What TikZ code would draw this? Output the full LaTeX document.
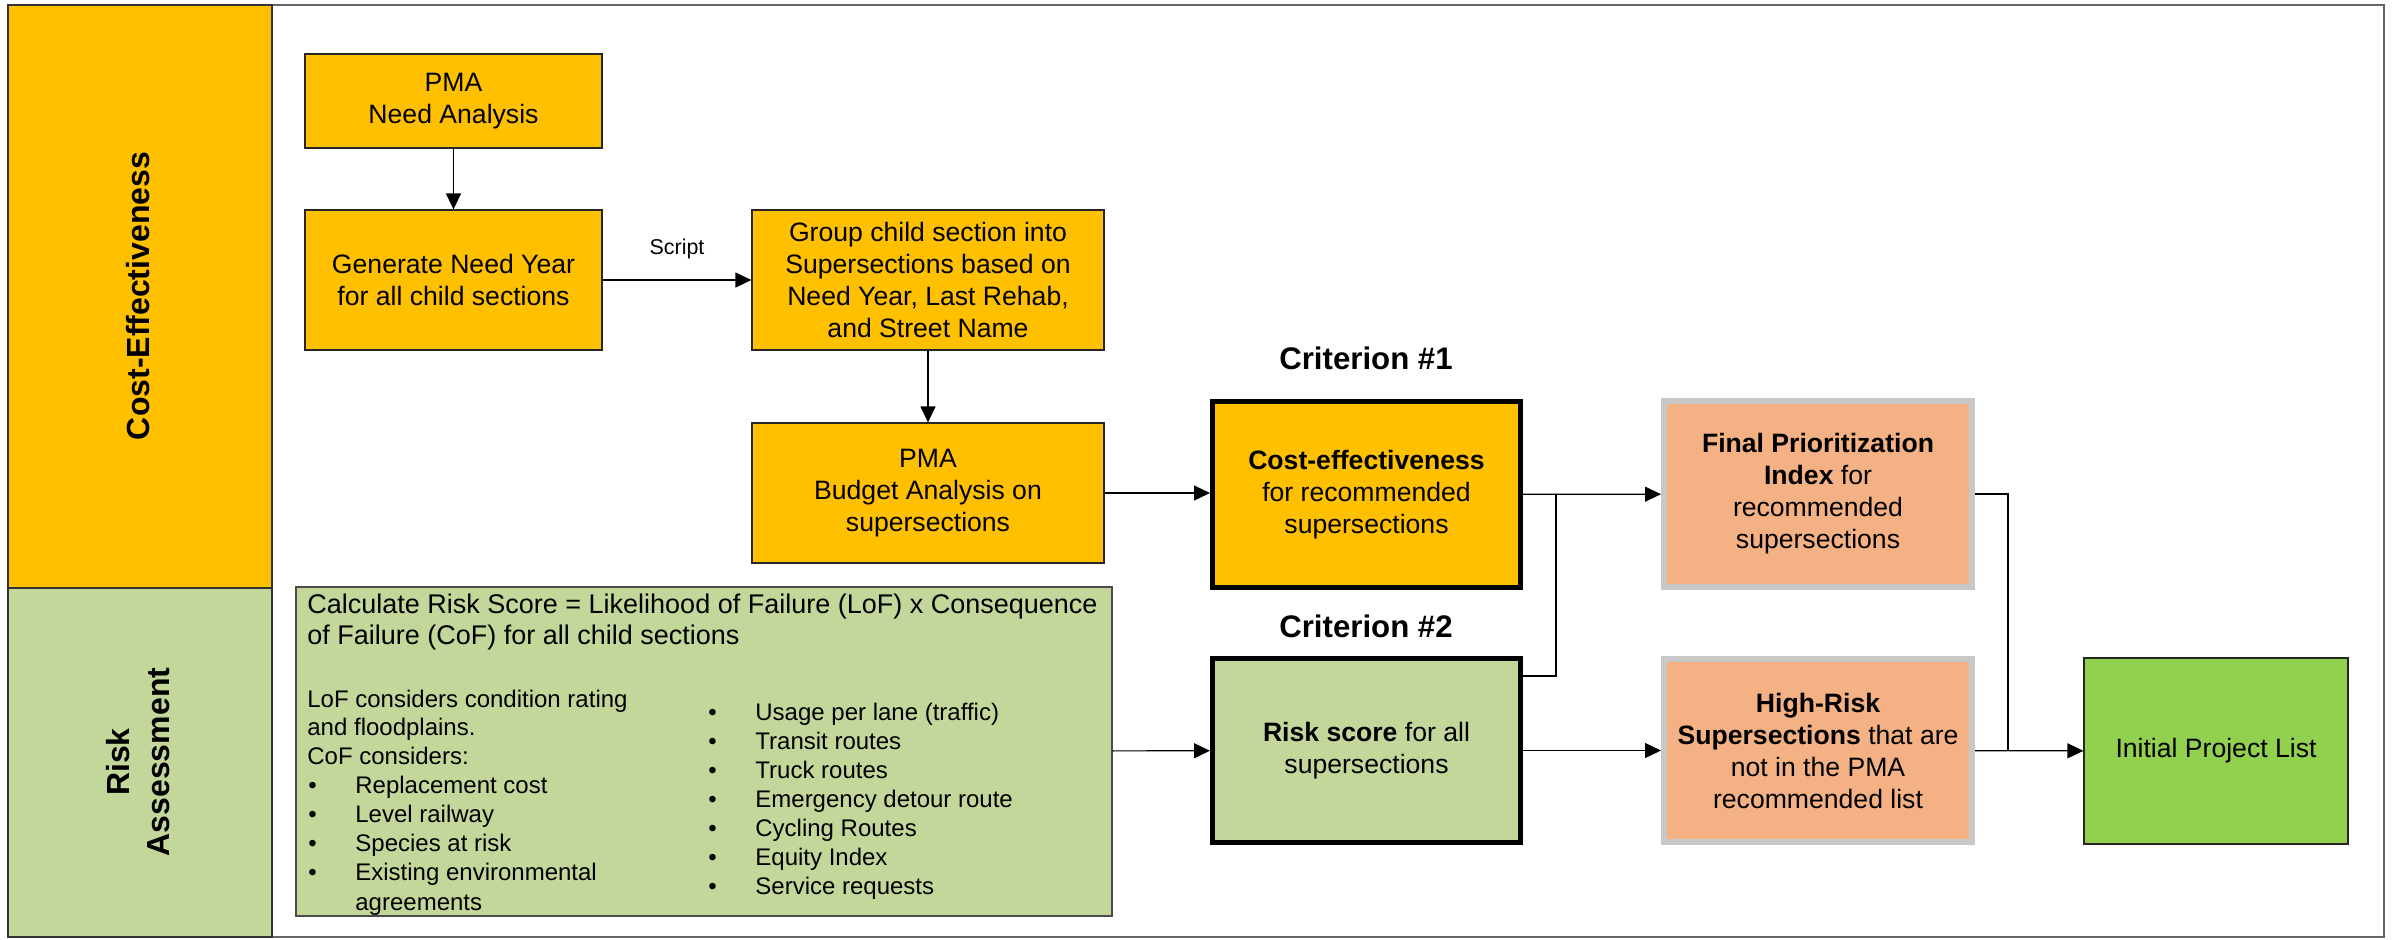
\documentclass[tikz,border=0pt]{standalone}
\usepackage{fontspec}
\setmainfont{Liberation Sans}
\usetikzlibrary{arrows.meta}
\usetikzlibrary{positioning}

\definecolor{ceorange}{HTML}{FFC000}
\definecolor{rskgreen}{HTML}{C4D79B}
\definecolor{fpisalmon}{HTML}{F4B183}
\definecolor{fpigrey}{HTML}{C8C8C8}
\definecolor{iplgreen}{HTML}{92D050}

\newcommand{\boxfont}{\fontsize{13.3}{16}\selectfont}
\newcommand{\headfont}{\fontsize{13.5}{15.5}\selectfont}
\newcommand{\listfont}{\fontsize{12}{14.5}\selectfont}
\newcommand{\bandfont}{\fontsize{16}{20}\selectfont\bfseries}

\begin{document}
\begin{tikzpicture}[x=0.5pt,y=-0.5pt,
  stepbox/.style={rectangle,draw=black!85,line width=0.6pt,fill=ceorange,inner sep=0pt,align=center,font=\boxfont},
  critbox/.style={rectangle,draw=black,line width=2.5pt,inner sep=0pt,align=center,font=\boxfont,minimum width=154pt,minimum height=92pt},
  outbox/.style={rectangle,draw=fpigrey,line width=3pt,fill=fpisalmon,inner sep=0pt,align=center,font=\boxfont,minimum width=154pt,minimum height=92.5pt},
  rtxt/.style={anchor=base west,inner sep=0pt,font=\listfont},
  crittitle/.style={inner sep=0pt,font=\fontsize{15.6}{18}\selectfont\bfseries},
  flow/.style={-{Triangle[length=8pt,width=7.5pt]},line width=0.6pt},
  link/.style={line width=0.6pt}]
\useasboundingbox (0,0) rectangle (2397,939);

% frame and swim lanes
\draw[black!60,line width=0.75pt] (8,5) rectangle (2384,937);
\draw[fill=ceorange,draw=black!80,line width=0.6pt] (8,5) rectangle (272,588);
\draw[fill=rskgreen,draw=black!80,line width=0.6pt] (8,588) rectangle (272,937);
\node[rotate=90,font=\bandfont] (celane) at (138,296) {Cost-Effectiveness};
\node[rotate=90,align=center,font=\bandfont] (rklane) at (138,762) {Risk\\Assessment};

% cost-effectiveness steps
\node[stepbox,minimum width=148.5pt,minimum height=47pt] (need) at (453.5,101) {PMA\\Need Analysis};
\node[stepbox,minimum width=148.5pt,minimum height=70pt] (gen) at (453.5,280) {Generate Need Year\\for all child sections};
\node[stepbox,minimum width=176pt,minimum height=70pt] (group) at (928,280) {Group child section into\\Supersections based on\\Need Year, Last Rehab,\\and Street Name};
\node[stepbox,minimum width=176pt,minimum height=70pt] (budget) at (928,493) {PMA\\Budget Analysis on\\supersections};

% risk score calculation
\node[rectangle,draw=black!70,line width=0.6pt,fill=rskgreen,minimum width=408pt,minimum height=164.5pt,inner sep=0pt] (rtext) at (704,751.5) {};
\node[rtxt,font=\headfont] (calc1) at (307,613) {Calculate Risk Score = Likelihood of Failure (LoF) x Consequence};
\node[rtxt,font=\headfont] (calc2) at (307,644) {of Failure (CoF) for all child sections};
\node[rtxt] (lof1) at (307,707) {LoF considers condition rating};
\node[rtxt] (lof2) at (307,735) {and floodplains.};
\node[rtxt] (cof0) at (307,764) {CoF considers:};
\foreach \t [count=\i] in {Replacement cost, Level railway, Species at risk, Existing environmental} {
  \node[rtxt] (cofdot\i) at (308,764+29*\i) {\textbullet};
  \node[rtxt] (cof\i) at (355,764+29*\i) {\t};
}
\node[rtxt] (cof5) at (355,910) {agreements};
\foreach \t [count=\i] in {Usage per lane (traffic), Transit routes, Truck routes, Emergency detour route, Cycling Routes, Equity Index, Service requests} {
  \node[rtxt] (usedot\i) at (708,691+29*\i) {\textbullet};
  \node[rtxt] (use\i) at (755,691+29*\i) {\t};
}

% criteria
\node[crittitle] (crit1) at (1366,358) {Criterion \#1};
\node[critbox,fill=ceorange,minimum height=93pt] (ce) at (1366.5,494.5) {\textbf{Cost-effectiveness}\\for recommended\\supersections};
\node[crittitle] (crit2) at (1366,626) {Criterion \#2};
\node[critbox,fill=rskgreen] (rs) at (1366.5,750.5) {\textbf{Risk score} for all\\supersections};

% outcomes
\node[outbox,minimum height=93pt] (fpi) at (1818,494) {\textbf{Final Prioritization}\\\textbf{Index} for\\recommended\\supersections};
\node[outbox,minimum height=91.5pt] (high) at (1818,750.5) {\textbf{High-Risk}\\\textbf{Supersections} that are\\not in the PMA\\recommended list};
\node[rectangle,draw=black!85,line width=0.6pt,fill=iplgreen,minimum width=132pt,minimum height=93pt,inner sep=0pt,font=\boxfont] (ipl) at (2216,751) {Initial Project List};

% connectors
\coordinate (jct) at (1556,494);
\coordinate (mrg) at (2008,751);
\draw[flow] (need) -- (gen);
\draw[flow] (gen) -- (group) node[midway,above=7pt,font=\fontsize{10.7}{13}\selectfont] (script) {Script};
\draw[flow] (group) -- (budget);
\draw[flow] (budget.east) -- (budget.east -| ce.west);
\draw[flow] (ce) -- (fpi);
\draw[link] ([yshift=-10pt]rs.north east) -| (jct);
\draw[flow] (rtext) -- (rs);
\draw[flow] (rs) -- (high);
\draw[link] (fpi.east) -| (mrg);
\draw[flow] (high) -- (ipl);

\end{tikzpicture}
\end{document}
